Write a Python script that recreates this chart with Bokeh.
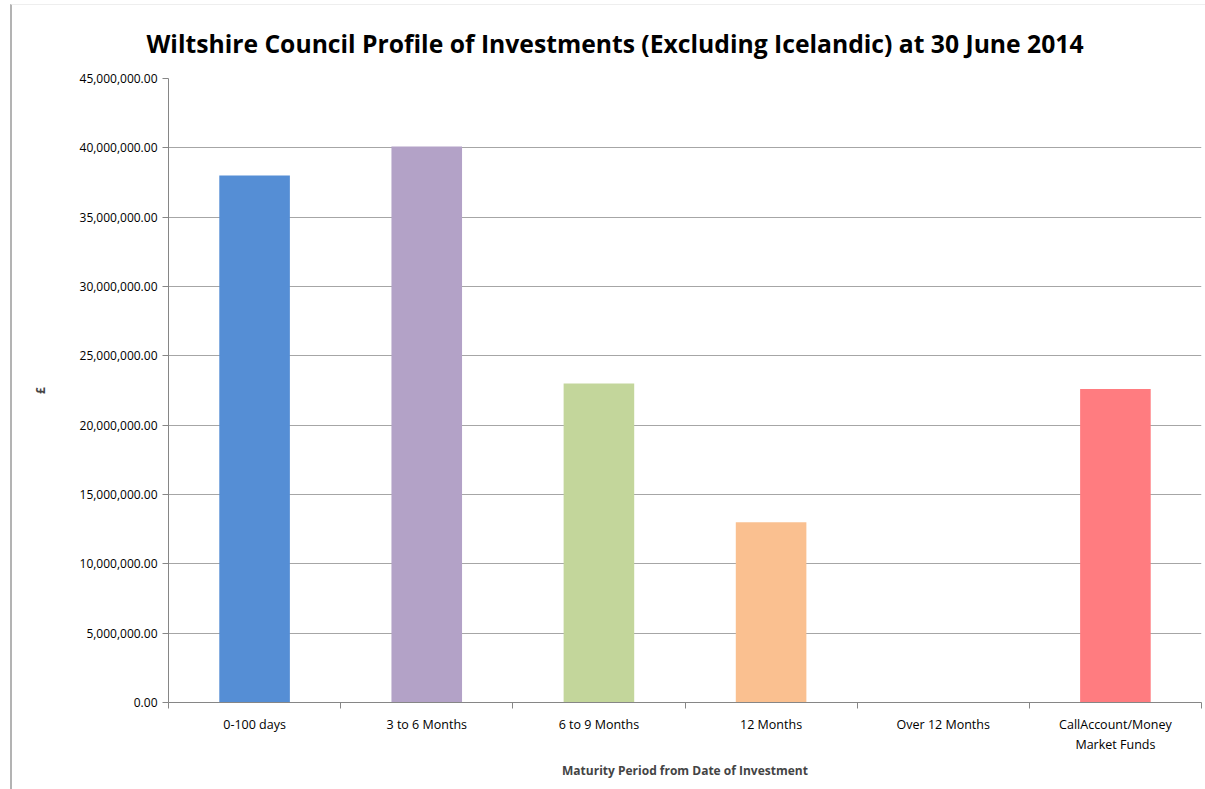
from bokeh.plotting import figure
from bokeh.models import ColumnDataSource, FixedTicker, NumeralTickFormatter, Range1d, Title
from bokeh.embed import file_html
from bokeh.resources import INLINE

categories = ["0-100 days", "3 to 6 Months", "6 to 9 Months", "12 Months",
              "Over 12 Months", "CallAccount/Money\nMarket Funds"]
values = [38000000, 40100000, 23000000, 13000000, 0, 22600000]
colors = ["#558ED5", "#B3A2C7", "#C3D69B", "#FAC090", "#4F81BD", "#FF7C80"]
y_ticks = [0, 5e6, 10e6, 15e6, 20e6, 25e6, 30e6, 35e6, 40e6, 45e6]

xs = list(range(len(categories)))
src = ColumnDataSource(dict(x=xs, top=values, color=colors))

FONT = "Open Sans"

p = figure(width=1195, height=785, output_backend="svg", toolbar_location=None,
           x_range=Range1d(-0.5, len(categories) - 0.5), y_range=Range1d(0, 45e6),
           min_border_left=156, min_border_right=6, min_border_top=60, min_border_bottom=88,
           margin=(4, 0, 0, 10),
           styles={"border-left": "2px solid #b3b3b3", "border-top": "1px solid #eeeeee"})
p.title = Title(text="Wiltshire Council Profile of Investments (Excluding Icelandic) at 30 June 2014",
                align="left", offset=-22, text_font=FONT, text_font_size="24.7px",
                text_font_style="bold", text_color="#000000", standoff=38)
p.outline_line_color = None
p.background_fill_color = "white"

p.vbar(x="x", top="top", width=0.41, color="color", source=src, line_color=None)

# y axis
p.yaxis.ticker = FixedTicker(ticks=y_ticks)
p.yaxis.formatter = NumeralTickFormatter(format="0,0.00")
p.yaxis.major_label_text_font = FONT
p.yaxis.major_label_text_font_size = "12px"
p.yaxis.major_label_text_color = "#000000"
p.yaxis.major_tick_out = 6
p.yaxis.major_tick_in = 0
p.yaxis.major_tick_line_color = "#868686"
p.yaxis.minor_tick_line_color = None
p.yaxis.axis_line_color = "#868686"
p.yaxis.axis_label = "£"
p.yaxis.axis_label_text_font = FONT
p.yaxis.axis_label_text_font_size = "12px"
p.yaxis.axis_label_text_font_style = "bold"
p.yaxis.axis_label_standoff = 28

# x axis
centers = xs
bounds = [i - 0.5 for i in range(len(categories) + 1)]
p.xaxis.ticker = FixedTicker(ticks=centers, minor_ticks=bounds)
p.xaxis.major_label_overrides = {i: c for i, c in enumerate(categories)}
p.xaxis.major_tick_line_color = None
p.xaxis.minor_tick_line_color = "#868686"
p.xaxis.minor_tick_out = 6
p.xaxis.minor_tick_in = 0
p.xaxis.axis_line_color = "#868686"
p.xaxis.major_label_text_font = FONT
p.xaxis.major_label_text_font_size = "12.5px"
p.xaxis.major_label_text_color = "#000000"
p.xaxis.major_label_standoff = 7
p.xaxis.axis_label = "Maturity Period from Date of Investment"
p.xaxis.axis_label_text_font = FONT
p.xaxis.axis_label_text_font_size = "12px"
p.xaxis.axis_label_text_font_style = "bold"
p.xaxis.axis_label_standoff = 6

p.xgrid.grid_line_color = None
p.ygrid.ticker = FixedTicker(ticks=y_ticks)
p.ygrid.grid_line_color = "#a6a6a6"
p.ygrid.grid_line_width = 1

open("out.html", "w").write(file_html(p, INLINE))
